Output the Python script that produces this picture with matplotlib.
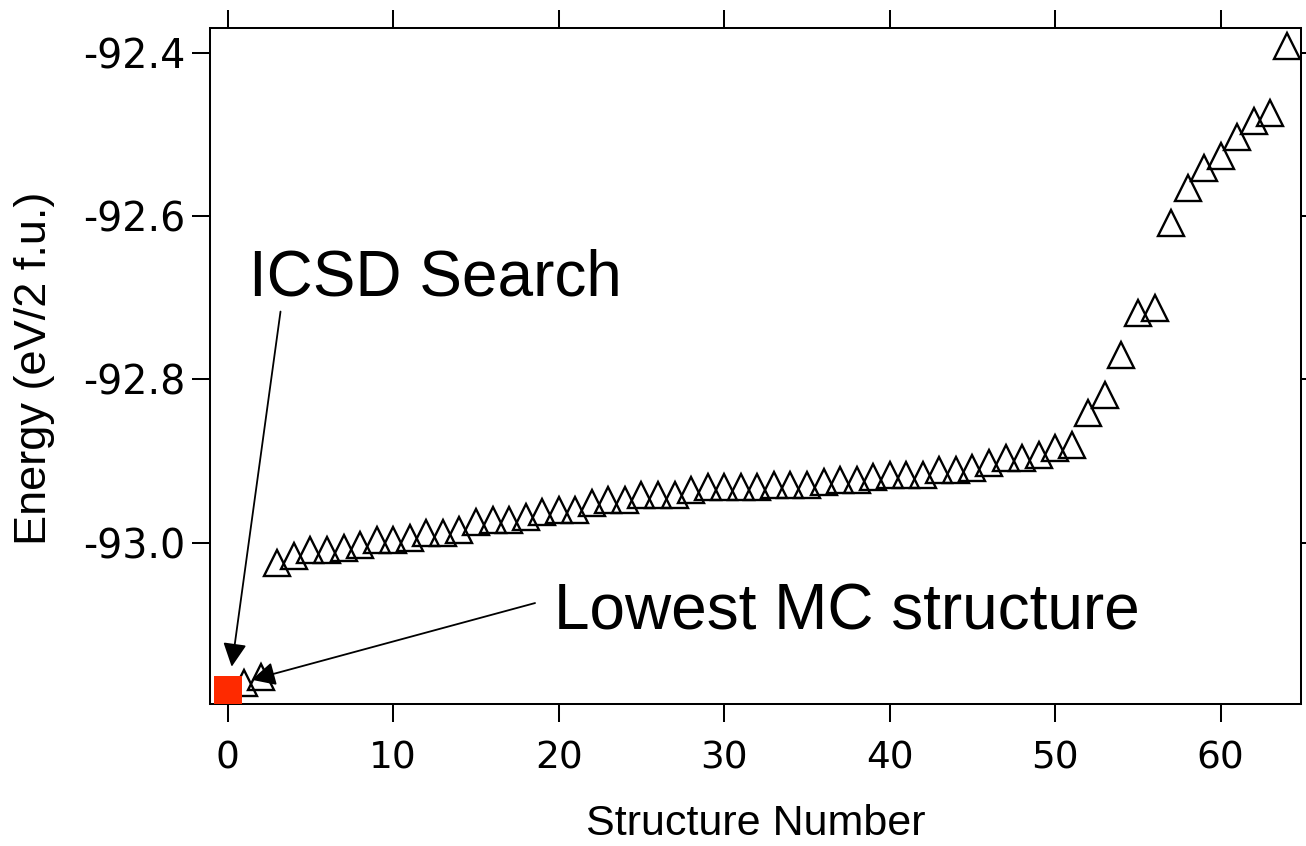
import matplotlib
matplotlib.use("Agg")
import matplotlib.pyplot as plt
import numpy as np

# Energies of the candidate structures (eV per 2 formula units)
icsd_number = [0]
icsd_energy = [-93.180]

structure_numbers = list(range(1, 65))
structure_energies = [
    -93.172, -93.165, -93.025, -93.016, -93.009, -93.009, -93.006, -93.003,
    -92.997, -92.997, -92.994, -92.988, -92.988, -92.984, -92.975, -92.972,
    -92.972, -92.969, -92.963, -92.960, -92.960, -92.951, -92.948, -92.948,
    -92.942, -92.942, -92.942, -92.935, -92.932, -92.932, -92.932, -92.932,
    -92.929, -92.929, -92.929, -92.926, -92.923, -92.923, -92.920, -92.917,
    -92.917, -92.917, -92.911, -92.911, -92.908, -92.902, -92.896, -92.896,
    -92.893, -92.884, -92.880, -92.841, -92.819, -92.770, -92.719, -92.713,
    -92.609, -92.566, -92.541, -92.526, -92.503, -92.484, -92.474, -92.392,
]

x_ticks = [0, 10, 20, 30, 40, 50, 60]
y_ticks = [-93.0, -92.8, -92.6, -92.4]
y_tick_labels = ["-93.0", "-92.8", "-92.6", "-92.4"]

fig = plt.figure(figsize=(13.06, 8.46), dpi=100)
ax = fig.add_axes([0.1608, 0.1675, 0.8351, 0.7991])

ax.plot(structure_numbers, structure_energies, linestyle="none", marker="^",
        markersize=18.5, markerfacecolor="none", markeredgecolor="black",
        markeredgewidth=1.7, zorder=3)
ax.plot(icsd_number, icsd_energy, linestyle="none", marker="s",
        markersize=20, markerfacecolor="#fe2a00", markeredgewidth=0,
        zorder=4)

ax.set_xlim(-1.07, 64.83)
ax.set_ylim(-93.198, -92.370)

ax.set_xticks(x_ticks)
ax.set_yticks(y_ticks)
ax.set_yticklabels(y_tick_labels)

for sp in ax.spines.values():
    sp.set_linewidth(1.45)

ax.tick_params(axis="both", direction="out", length=13, width=1.45,
               top=True, right=True, labeltop=False, labelright=False)
ax.tick_params(axis="x", pad=13, labelsize=27)
ax.tick_params(axis="y", pad=5, labelsize=28.5)
for lab in ax.get_xticklabels() + ax.get_yticklabels():
    lab.set_fontfamily("DejaVu Sans")

ax.set_xlabel("Structure Number", fontsize=31, family="Liberation Sans")
ax.set_ylabel("Energy (eV/2 f.u.)", fontsize=32.5, family="Liberation Sans")
ax.xaxis.set_label_coords(0.5, -0.1475)
ax.yaxis.set_label_coords(-0.142, 0.497)

arrow_style = dict(arrowstyle="-|>,head_length=0.4,head_width=0.2",
                   mutation_scale=36, color="black", lw=1.3,
                   shrinkA=0, shrinkB=0)

ax.annotate("", xy=(0.24, -93.152), xytext=(3.19, -92.717),
            arrowprops=arrow_style, annotation_clip=False)
ax.annotate("", xy=(1.45, -93.168), xytext=(18.57, -93.074),
            arrowprops=arrow_style, annotation_clip=False)

ax.text(1.28, -92.697, "ICSD Search", fontsize=46, family="Liberation Sans",
        ha="left", va="baseline")
ax.text(19.72, -93.107, "Lowest MC structure", fontsize=46,
        family="Liberation Sans", ha="left", va="baseline")

fig.savefig("out.png", dpi=100)
